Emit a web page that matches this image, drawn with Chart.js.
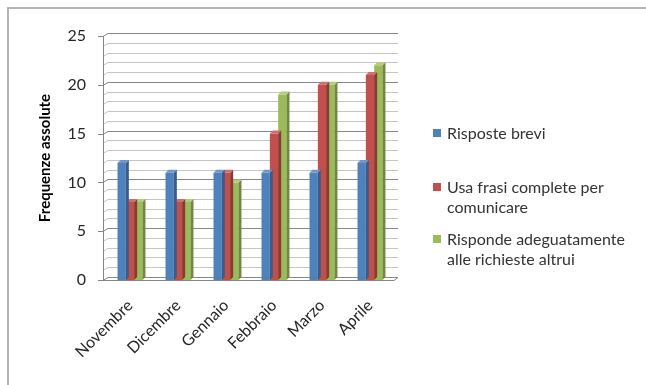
<!DOCTYPE html>
<html>
<head>
<meta charset="utf-8">
<script src="https://cdn.jsdelivr.net/npm/chart.js@4.4.1/dist/chart.umd.min.js"></script>
<style>
  body { margin: 0; background: #fff; }
  #wrap { position: relative; width: 646px; height: 385px; overflow: hidden; }
  #frame { position: absolute; left: 7px; top: 7px; width: 700px; height: 450px;
           border-top: 2px solid #b4b4b4; border-left: 2px solid #b4b4b4; }
  #chartCanvas { position: absolute; left: 0; top: 0; }
  #legend { position: absolute; left: 433px; top: 0; font-family: Lato, sans-serif;
            font-size: 16px; color: #333; }
  .item { position: absolute; left: 0; white-space: nowrap; line-height: 20px; }
  .box { position: absolute; left: 0; top: 6px; width: 8px; height: 8px; }
  .txt { position: absolute; left: 14px; top: 0; }
</style>
</head>
<body>
<div id="wrap">
  <div id="frame"></div>
  <canvas id="chartCanvas" width="646" height="385"></canvas>
  <div id="legend"></div>
</div>
<script>
const mesi = ["Novembre", "Dicembre", "Gennaio", "Febbraio", "Marzo", "Aprile"];
const risposteBrevi = [12, 11, 11, 11, 11, 12];
const frasiComplete = [8, 8, 11, 15, 20, 21];
const rispondeAdeguatamente = [8, 8, 10, 19, 20, 22];

const serie = [
    { label: ["Risposte brevi"], data: risposteBrevi, front: "#4f81bd", side: "#385d8a", top: "#6d97cb" },
    { label: ["Usa frasi complete per", "comunicare"], data: frasiComplete, front: "#c0504d", side: "#8c3836", top: "#d06e6b" },
    { label: ["Risponde adeguatamente", "alle richieste altrui"], data: rispondeAdeguatamente, front: "#9bbb59", side: "#71893f", top: "#b2cd7a" }
];

const DX = 4, DY = 3;

// back wall, floor and axis
const wallPlugin = {
    id: 'wall',
    beforeDatasetsDraw(chart) {
        const ctx = chart.ctx;
        const y = chart.scales.y;
        const area = chart.chartArea;
        const axisX = area.left - 3;
        const right = area.right + DX;
        ctx.save();
        ctx.lineWidth = 1;
        for (let v = 0; v <= 25; v++) {
            const py = Math.round(y.getPixelForValue(v)) + 0.5;
            ctx.strokeStyle = v % 5 === 0 ? "#868686" : "#c4c4c4";
            ctx.beginPath();
            ctx.moveTo(axisX, py);
            ctx.lineTo(axisX + DX + 1, py - DY);
            ctx.lineTo(right, py - DY);
            ctx.stroke();
        }
        // floor front edge
        const p0 = Math.round(y.getPixelForValue(0)) + 0.5;
        ctx.strokeStyle = "#868686";
        ctx.beginPath();
        ctx.moveTo(axisX, p0);
        ctx.lineTo(area.right, p0);
        ctx.lineTo(right, p0 - DY);
        ctx.stroke();
        // vertical axis with ticks
        ctx.beginPath();
        ctx.moveTo(axisX + 0.5, y.getPixelForValue(25));
        ctx.lineTo(axisX + 0.5, p0);
        for (let v = 0; v <= 25; v += 5) {
            const py = Math.round(y.getPixelForValue(v)) + 0.5;
            ctx.moveTo(axisX - 5, py);
            ctx.lineTo(axisX, py);
        }
        ctx.stroke();
        ctx.restore();
    },
    afterDatasetDraw(chart, args) {
        // side and top faces of each column
        const ctx = chart.ctx;
        const s = serie[args.index];
        ctx.save();
        args.meta.data.forEach(bar => {
            const l = bar.x - bar.width / 2, r = bar.x + bar.width / 2;
            ctx.fillStyle = s.side;
            ctx.beginPath();
            ctx.moveTo(r, bar.y);
            ctx.lineTo(r + DX - 1, bar.y - DY);
            ctx.lineTo(r + DX - 1, bar.base - DY);
            ctx.lineTo(r, bar.base);
            ctx.closePath();
            ctx.fill();
            ctx.fillStyle = s.top;
            ctx.beginPath();
            ctx.moveTo(l, bar.y);
            ctx.lineTo(l + DX - 1, bar.y - DY);
            ctx.lineTo(r + DX - 1, bar.y - DY);
            ctx.lineTo(r, bar.y);
            ctx.closePath();
            ctx.fill();
        });
        ctx.restore();
    }
};

new Chart(document.getElementById('chartCanvas').getContext('2d'), {
    type: 'bar',
    data: {
        labels: mesi,
        datasets: serie.map(s => ({
            label: s.label.join(" "),
            data: s.data,
            backgroundColor: s.front,
            borderWidth: 0,
            barPercentage: 1,
            categoryPercentage: 0.52
        }))
    },
    options: {
        responsive: false,
        devicePixelRatio: 1,
        animation: false,
        layout: { padding: { left: 0, top: 36, right: 252, bottom: 0 } },
        plugins: { legend: { display: false }, tooltip: { enabled: false } },
        scales: {
            x: {
                grid: { display: false },
                border: { display: false },
                ticks: {
                    minRotation: 45, maxRotation: 45, padding: 8,
                    color: "#262626",
                    font: { family: "Lato", size: 16 }
                },
                afterFit: scale => { scale.height = 105; }
            },
            y: {
                min: 0, max: 25,
                grid: { display: false },
                border: { display: false },
                ticks: {
                    stepSize: 5, padding: 12,
                    color: "#262626",
                    font: { family: "Lato", size: 16 }
                },
                title: {
                    display: true, text: "Frequenze assolute",
                    color: "#000",
                    font: { family: "Lato", size: 15, weight: "bold" },
                    padding: { top: 36, bottom: 0 }
                },
                afterFit: scale => { scale.width = 106; }
            }
        }
    },
    plugins: [wallPlugin]
});

// legend on the right
const legendTop = [123, 177, 229];
const legend = document.getElementById('legend');
serie.forEach((s, i) => {
    const item = document.createElement('div');
    item.className = 'item';
    item.style.top = legendTop[i] + 'px';
    const box = document.createElement('div');
    box.className = 'box';
    box.style.background = s.front;
    const txt = document.createElement('div');
    txt.className = 'txt';
    txt.innerHTML = s.label.join("<br>");
    item.appendChild(box);
    item.appendChild(txt);
    legend.appendChild(item);
});
</script>
</body>
</html>
